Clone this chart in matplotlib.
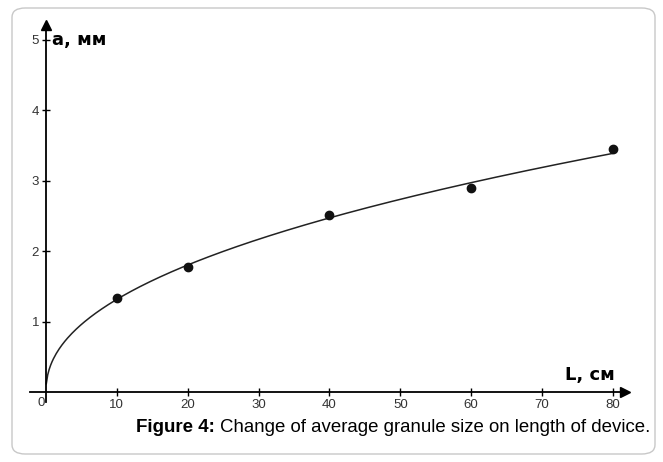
import numpy as np
import matplotlib
matplotlib.use("Agg")
import matplotlib.pyplot as plt
from matplotlib.patches import FancyBboxPatch

# measured points: device length L (cm) vs mean granule size a (mm)
length_cm = [10, 20, 40, 60, 80]
size_mm = [1.33, 1.77, 2.52, 2.89, 3.45]
x_ticks = [10, 20, 30, 40, 50, 60, 70, 80]
y_ticks = [1, 2, 3, 4, 5]

# power-law trend line through the measurements (a = k * L^n)
n, lnk = np.polyfit(np.log(length_cm), np.log(size_mm), 1)
L_fit = np.linspace(0.05, 80, 400)
a_fit = np.exp(lnk) * L_fit ** n

W, H = 663, 462
fig = plt.figure(figsize=(W / 100, H / 100), dpi=100)

# rounded frame around the figure
frame = FancyBboxPatch((12 / W, 8 / H), (643 / W), (446 / H),
                       boxstyle="round,pad=0,rounding_size=0.02",
                       transform=fig.transFigure, fill=False,
                       edgecolor="#c8c8c8", linewidth=1.0)
fig.patches.append(frame)

ax = fig.add_axes([30 / W, (H - 402) / H, 595 / W, 377 / H])
ax.set_xlim(-2.25, 81.7)
ax.set_ylim(-0.14, 5.21)

for s in ["top", "right"]:
    ax.spines[s].set_visible(False)
ax.spines["left"].set_position(("data", 0))
ax.spines["bottom"].set_position(("data", 0))
ax.spines["left"].set_linewidth(1.3)
ax.spines["bottom"].set_linewidth(1.3)
ax.plot(1, 0, ">k", transform=ax.get_yaxis_transform(), clip_on=False, markersize=7)
ax.plot(0, 1, "^k", transform=ax.get_xaxis_transform(), clip_on=False, markersize=7)

tick_font = dict(family="Liberation Sans", size=9.5, color="#333333")
ax.set_xticks(x_ticks)
ax.set_xticklabels([str(v) for v in x_ticks], **tick_font)
ax.set_yticks(y_ticks)
ax.set_yticklabels([str(v) for v in y_ticks], **tick_font)
ax.tick_params(direction="inout", length=6, width=1, pad=2)
ax.text(-0.2, -0.07, "0", ha="right", va="top", **tick_font)

ax.plot(L_fit, a_fit, color="#222222", linewidth=1.1)
ax.plot(length_cm, size_mm, "o", color="#111111", markersize=6)

ax.text(0.9, 5.0, "a, мм", fontsize=13, fontweight="bold", va="center", ha="left",
        family="DejaVu Sans")
ax.text(80.2, 0.24, "L, см", fontsize=13, fontweight="bold", va="center", ha="right",
        family="DejaVu Sans")

# caption: bold label followed directly by the plain text
cap_y = 1 - 427 / H
bold = fig.text(136 / W, cap_y, "Figure 4:", fontsize=13.5, fontweight="bold",
                family="Liberation Sans", va="center", ha="left")
fig.canvas.draw()
bb = bold.get_window_extent()
fig.text((bb.x1 + 5) / W, cap_y, "Change of average granule size on length of device.",
         fontsize=13.4, family="Liberation Sans", va="center", ha="left")

fig.savefig("out.png", dpi=100)
